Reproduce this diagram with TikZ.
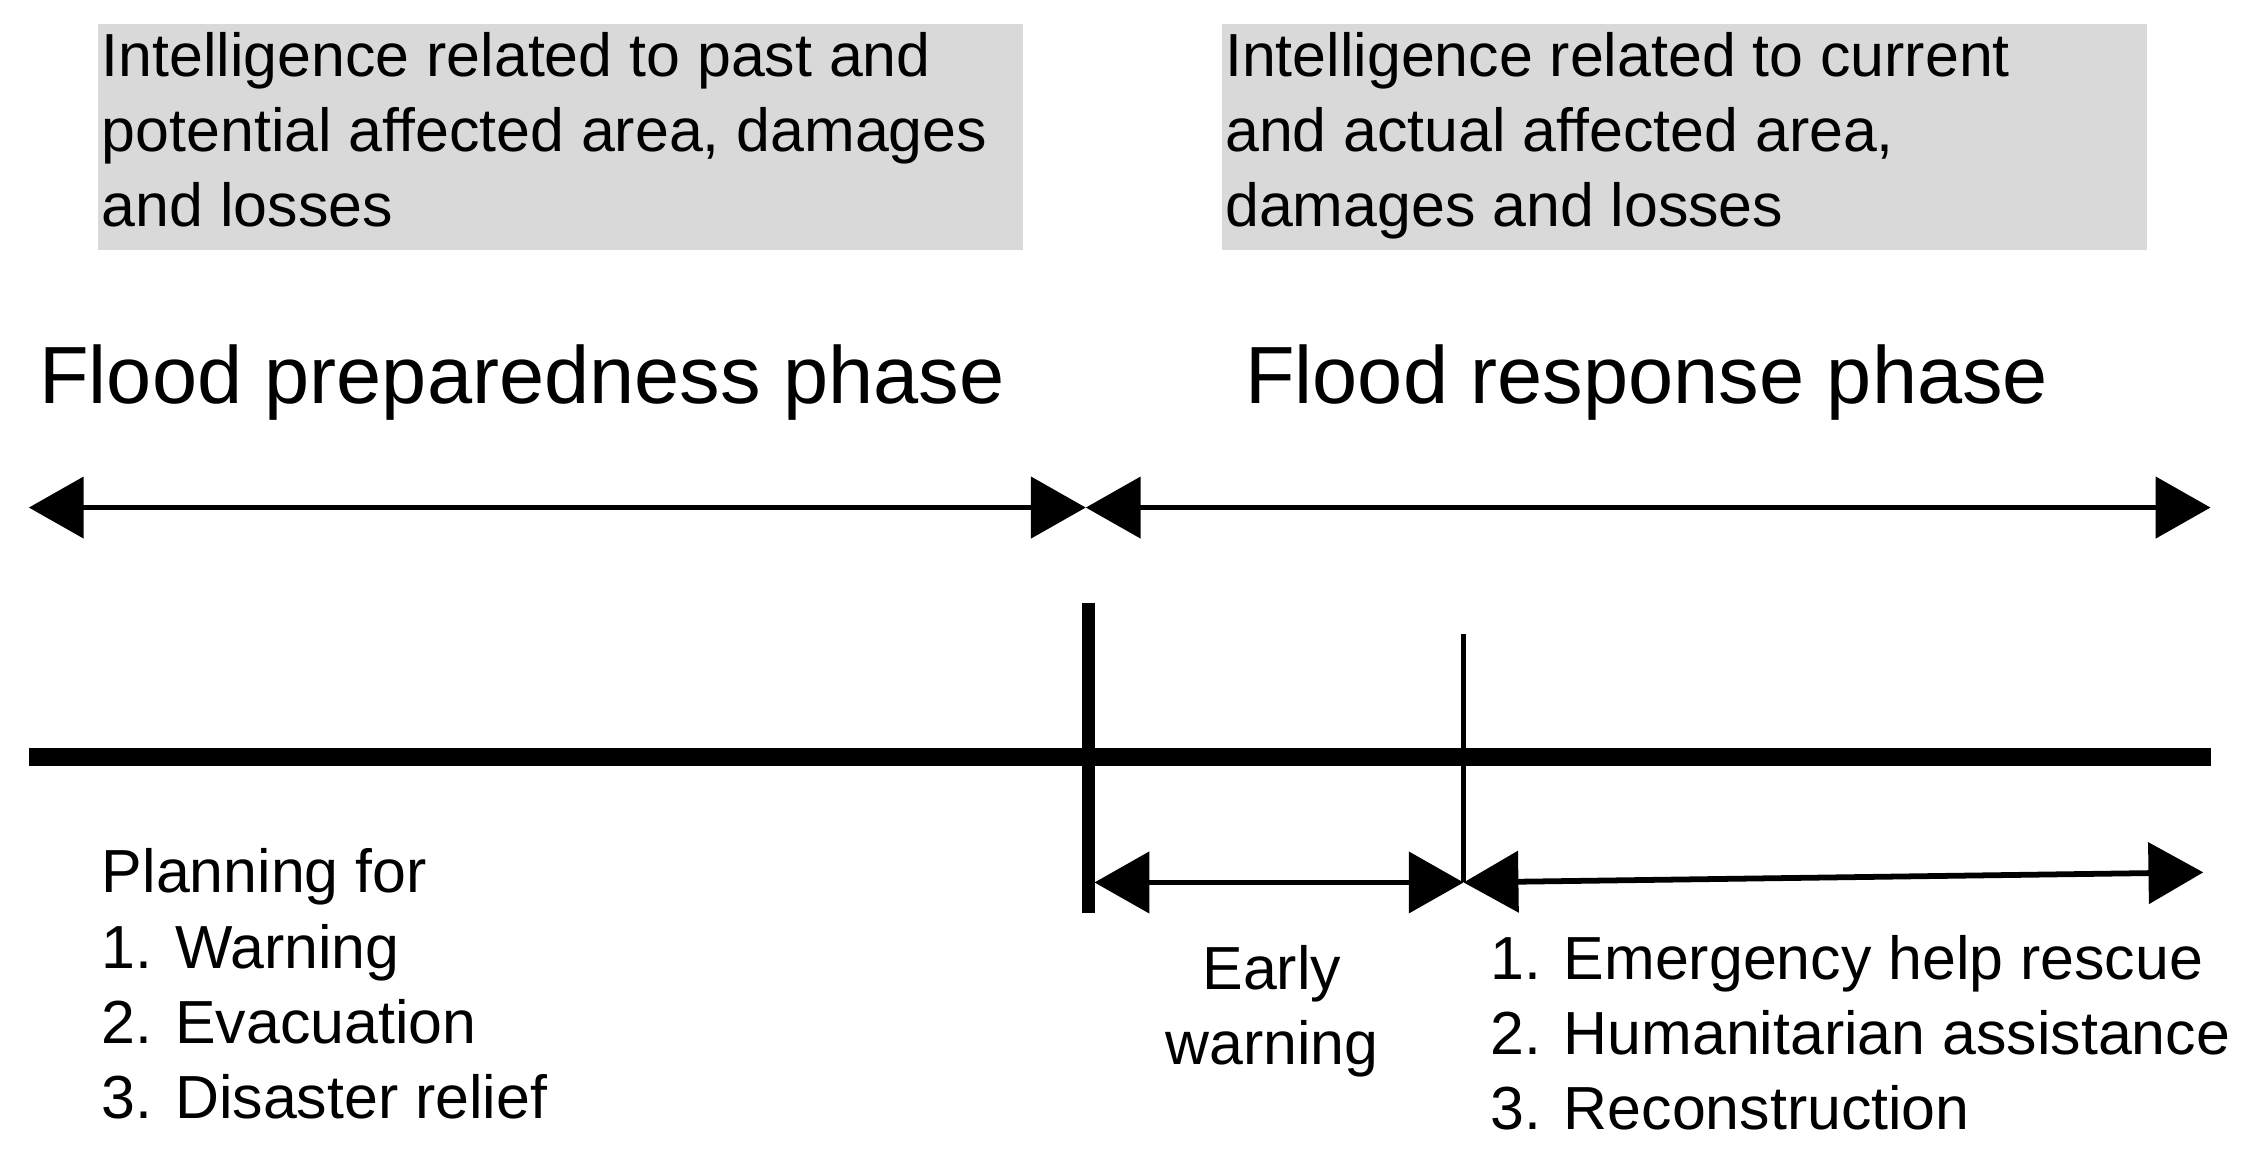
\documentclass[tikz,border=0pt]{standalone}
\usepackage{fontspec}
\setmainfont{Liberation Sans}
\usetikzlibrary{arrows.meta, positioning}
\definecolor{boxgrey}{HTML}{D9D9D9}

\begin{document}
\begin{tikzpicture}[x=0.01cm, y=-0.01cm,
    intel/.style={fill=boxgrey, minimum width=6.41cm, minimum height=1.56cm, inner sep=0pt},
    info/.style={align=left, anchor=north west, inner sep=0pt, font=\fontsize{12}{14.8}\selectfont},
    phase/.style={font=\fontsize{16}{19}\selectfont},
    span/.style={line width=0.4mm, {Triangle[length=3.8mm, width=4.2mm]}-{Triangle[length=3.8mm, width=4.2mm]}}]

\useasboundingbox (0,0) rectangle (1568,807);

% Intelligence boxes
\node[intel] (pastbox) at (388.5,95) {};
\node[intel] (currbox) at (1168,95) {};
\node[info] (pasttext) at (70,22) {Intelligence related to past and\\potential affected area, damages\\and losses};
\node[info] (currtext) at (849,22) {Intelligence related to current\\and actual affected area,\\damages and losses};

% Phases
\node[phase] (prep) at (362,265) {Flood preparedness phase};
\node[phase] (resp) at (1142,265) {Flood response phase};

\coordinate (pl) at (20,352);
\coordinate (pm) at (753,352);
\coordinate (pr) at (1533,352);
\draw[span] (pl) -- (pm);
\draw[span] (pm) -- (pr);

% Timeline
\coordinate (tl) at (20,525);
\coordinate (tr) at (1533,525);
\draw[line width=1.3mm] (tl) -- (tr);
\coordinate (onsettop) at (755,418);
\coordinate (onsetbot) at (755,633);
\draw[line width=0.9mm] (onsettop) -- (onsetbot);
\coordinate (warntop) at (1015,440);
\coordinate (warnbot) at (1015,612);
\draw[line width=0.3mm] (warntop) -- (warnbot);

% Lower spans
\coordinate (ew) at (759,612);
\draw[span] (ew) -- (warnbot);
\coordinate (endr) at (1528,605);
\draw[span] (warnbot) -- (endr);

% Activities
\node[info] (planning) at (70,588) {Planning for\\1. Warning\\2. Evacuation\\3. Disaster relief};
\node[info, align=center, anchor=north] (early) at (882,655) {Early\\warning};
\node[info] (actions) at (1033,648) {1. Emergency help rescue\\2. Humanitarian assistance\\3. Reconstruction};

\end{tikzpicture}
\end{document}
